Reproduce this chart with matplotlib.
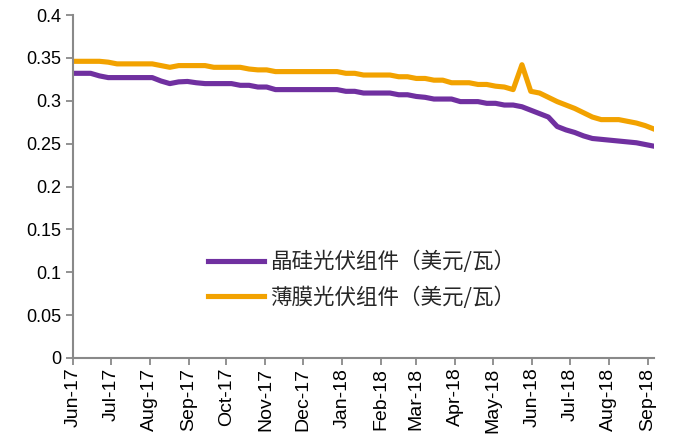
import numpy as np
import pandas as pd
import matplotlib
matplotlib.use('Agg')
import matplotlib.pyplot as plt
import matplotlib.dates as mdates

# data mingguan
tanggal = pd.date_range('2017-06-01', periods=67, freq='7D')

kristal = [0.332, 0.332, 0.332, 0.329, 0.327, 0.327, 0.327, 0.327, 0.327, 0.327,
           0.323, 0.320, 0.322, 0.3225, 0.321, 0.320, 0.320, 0.320, 0.320, 0.318,
           0.318, 0.316, 0.316, 0.313, 0.313, 0.313, 0.313, 0.313, 0.313, 0.313,
           0.313, 0.311, 0.311, 0.309, 0.309, 0.309, 0.309, 0.307, 0.307, 0.305,
           0.304, 0.302, 0.302, 0.302, 0.299, 0.299, 0.299, 0.297, 0.297, 0.295,
           0.295, 0.293, 0.289, 0.285, 0.281, 0.270, 0.266, 0.263, 0.259, 0.256,
           0.255, 0.254, 0.253, 0.252, 0.251, 0.249, 0.247]

tipis = [0.346, 0.346, 0.346, 0.346, 0.345, 0.343, 0.343, 0.343, 0.343, 0.343,
         0.341, 0.339, 0.341, 0.341, 0.341, 0.341, 0.339, 0.339, 0.339, 0.339,
         0.337, 0.336, 0.336, 0.334, 0.334, 0.334, 0.334, 0.334, 0.334, 0.334,
         0.334, 0.332, 0.332, 0.330, 0.330, 0.330, 0.330, 0.328, 0.328, 0.326,
         0.326, 0.324, 0.324, 0.321, 0.321, 0.321, 0.319, 0.319, 0.317, 0.316,
         0.313, 0.342, 0.311, 0.309, 0.304, 0.299, 0.295, 0.291, 0.286, 0.281,
         0.278, 0.278, 0.278, 0.276, 0.274, 0.271, 0.267]

label_kristal = '晶硅光伏组件（美元/瓦）'
label_tipis = '薄膜光伏组件（美元/瓦）'

yticks = [0, 0.05, 0.1, 0.15, 0.2, 0.25, 0.3, 0.35, 0.4]
ylabels = ['0', '0.05', '0.1', '0.15', '0.2', '0.25', '0.3', '0.35', '0.4']

abu = '#898989'

fig = plt.figure(figsize=(6.78, 4.43), dpi=100)
ax = fig.add_axes([73/678, 1-358/443, (654-73)/678, (358-15)/443])

ax.plot(tanggal, kristal, color='#7030A0', lw=3.7, label=label_kristal, solid_joinstyle='round')
ax.plot(tanggal, tipis, color='#F2A200', lw=3.7, label=label_tipis, solid_joinstyle='round')

ax.set_xlim(pd.Timestamp('2017-06-01'), pd.Timestamp('2018-09-06'))
ax.set_ylim(0, 0.4)

ax.xaxis.set_major_locator(mdates.MonthLocator())
ax.xaxis.set_major_formatter(mdates.DateFormatter('%b-%y'))
ax.set_yticks(yticks)
ax.set_yticklabels(ylabels, fontfamily='Liberation Sans', fontsize=13)
for t in ax.get_xticklabels():
    t.set_rotation(90)
    t.set_fontfamily('Liberation Sans')
    t.set_fontsize(14)

for s in ['top', 'right']:
    ax.spines[s].set_visible(False)
for s in ['left', 'bottom']:
    ax.spines[s].set_color(abu)
    ax.spines[s].set_linewidth(1.5)
ax.tick_params(axis='both', direction='out', length=5, width=1.3, color=abu, labelcolor='black')
ax.tick_params(axis='x', pad=2)

leg = ax.legend(loc='upper left', bbox_to_anchor=(208/678, 1-251/443),
                bbox_transform=fig.transFigure, frameon=False,
                prop={'family': ['Noto Sans CJK SC', 'DejaVu Sans'], 'size': 15.5},
                handlelength=2.6, handletextpad=0.3, labelspacing=0.6,
                borderpad=0, borderaxespad=0)
for t in leg.get_texts():
    t.set_color('#262626')

fig.savefig('out.png', dpi=100)
